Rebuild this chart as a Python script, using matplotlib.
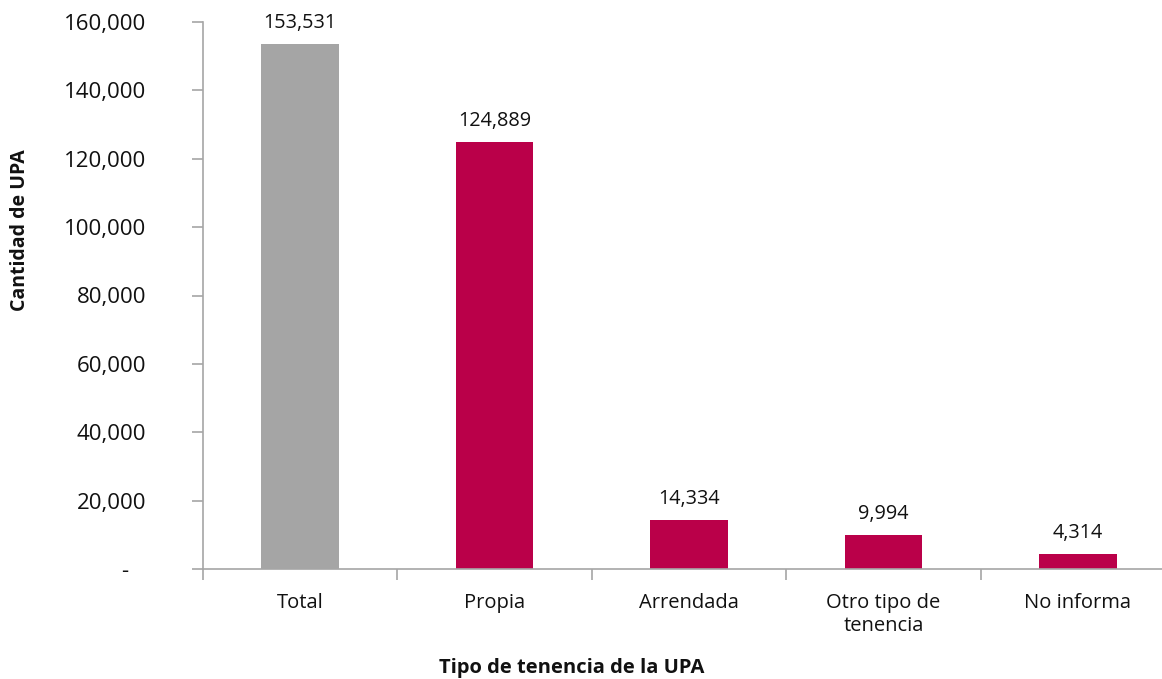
import matplotlib.pyplot as plt
from matplotlib.ticker import FuncFormatter, FixedLocator

plt.rcParams['font.family'] = ['Open Sans', 'DejaVu Sans']

categorias = ["Total", "Propia", "Arrendada", "Otro tipo de\ntenencia", "No informa"]
valores = [153531, 124889, 14334, 9994, 4314]
colores = ["#A5A5A5", "#BA0049", "#BA0049", "#BA0049", "#BA0049"]

W, H = 1162, 679
fig = plt.figure(figsize=(W / 100, H / 100), dpi=100)
# el eje x se corta en el borde derecho, como en el original
ax = fig.add_axes([203 / W, (H - 569) / H, (1175 - 203) / W, (569 - 22) / H])

x = range(len(categorias))
ax.bar(x, valores, width=0.4, color=colores, zorder=2)

for xi, v in zip(x, valores):
    ax.annotate(f"{v:,}", (xi, v), xytext=(0, 8), textcoords="offset points",
                ha="center", va="bottom", fontsize=14.3, color="#111111")

ax.set_xlim(-0.5, len(categorias) - 0.5)
ax.set_ylim(0, 160000)
ax.set_yticks(range(0, 160001, 20000))
ax.yaxis.set_major_formatter(FuncFormatter(lambda v, p: "-   " if v == 0 else f"{int(v):,}"))

ax.set_xticks(list(x))
ax.set_xticklabels(categorias, fontsize=14.5, color="#111111", linespacing=1.25)
ax.xaxis.set_minor_locator(FixedLocator([i - 0.5 for i in range(len(categorias) + 1)]))
ax.tick_params(axis="x", which="major", length=0, pad=17)
ax.tick_params(axis="x", which="minor", length=8, width=1.2, color="#A6A6A6", direction="out")
ax.tick_params(axis="y", length=8, width=1.2, color="#A6A6A6", direction="out",
               pad=33, labelsize=16, labelcolor="#111111")

for s in ["top", "right"]:
    ax.spines[s].set_visible(False)
for s in ["left", "bottom"]:
    ax.spines[s].set_color("#A6A6A6")
    ax.spines[s].set_linewidth(1.2)

fig.text(20 / W, 1 - 230 / H, "Cantidad de UPA", rotation=90, ha="center", va="center",
         fontsize=14, fontweight="bold", color="#111111")
fig.text(572 / W, 1 - 668 / H, "Tipo de tenencia de la UPA", ha="center", va="center",
         fontsize=14.5, fontweight="bold", color="#111111")

fig.savefig("out.png", dpi=100)
